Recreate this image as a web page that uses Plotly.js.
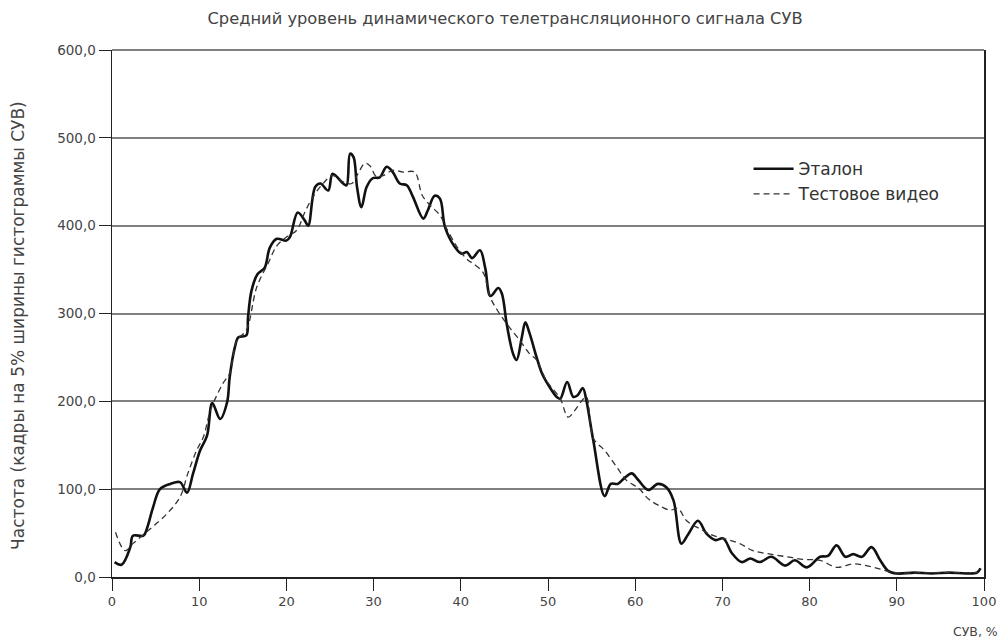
<!DOCTYPE html>
<html>
<head>
<meta charset="utf-8">
<script src="https://cdn.plot.ly/plotly-3.0.1.min.js"></script>
<style>html,body{margin:0;padding:0;background:#fff;}#chart{width:1002px;height:642px;}</style>
</head>
<body>
<div id="chart"></div>
<script>
// Эталон (solid)
var etalonX = [0.3,1.1,2.1,2.4,3.6,4.0,4.7,5.5,6.7,7.8,8.6,9.3,10.1,10.9,11.5,12.4,13.2,13.5,14.1,14.5,15.4,15.6,16.0,16.7,17.5,18.1,18.9,20.0,20.4,21.3,22.1,22.5,23.3,23.9,24.8,25.3,26.5,26.9,27.3,27.7,28.1,28.6,29.2,29.9,30.7,31.5,32.2,33.0,33.8,34.5,35.7,36.2,37.0,37.6,38.2,39.3,40.1,40.7,41.3,42.2,42.8,43.4,44.3,44.7,45.3,46.0,46.4,47.0,47.4,47.9,48.7,49.3,50.2,51.0,51.4,52.2,52.9,53.4,54.0,54.4,55.2,56.5,57.2,58.0,58.7,59.6,60.3,61.5,62.6,63.6,64.4,65.3,66.1,67.2,68.2,69.2,70.1,71.1,72.2,73.2,74.3,75.6,77.2,78.3,79.7,81.2,82.1,83.1,84.1,85.0,86.0,87.1,88.1,89.0,90.0,92.0,94.0,96.0,98.0,99.2,99.6];
var etalonY = [17,14,34,47,47,55,79,100,106,108,96,118,144,161,198,180,199,228,262,273,275,296,326,345,352,375,385,383,387,415,406,400,444,448,440,459,448,446,482,478,444,421,444,454,455,467,461,448,446,433,408,417,434,431,398,376,368,370,363,372,352,320,329,323,286,254,247,273,290,277,250,232,216,205,203,222,205,207,215,201,155,92,106,106,112,118,111,99,106,102,87,38,49,64,49,42,44,27,17,21,17,23,13,19,11,23,24,36,23,26,23,34,19,7,4,5,4,5,4,5,10];
// Тестовое видео (dashed)
var testX = [0.4,1.5,2.4,4.4,6.3,7.8,8.7,9.7,10.5,11.3,12.7,13.5,14.3,15.4,16.6,17.9,18.9,20.0,21.2,22.1,23.0,24.2,25.3,26.5,27.5,28.2,29.0,29.6,30.3,31.1,32.2,33.4,34.7,35.6,36.6,37.6,38.3,39.7,40.8,41.4,42.6,43.3,44.3,45.6,46.8,47.9,48.7,49.8,51.4,52.3,53.1,53.9,54.4,55.2,56.5,57.9,59.0,60.4,61.5,62.8,64.0,64.9,65.9,67.4,69.0,70.5,72.0,73.5,75.5,77.4,79.3,81.2,83.1,85.0,86.5,88.1,89.6,93.4,97.2,99.3];
var testY = [51,30,38,55,72,91,118,144,160,190,220,232,269,281,330,357,377,387,395,415,432,448,457,450,448,459,471,468,456,457,463,461,461,434,422,412,398,374,361,357,346,320,302,284,269,254,247,224,203,182,190,201,205,158,144,125,110,101,89,81,76,78,64,55,47,43,38,30,26,23,20,19,11,15,13,9,5,5,5,5];
var seriesNames = ["Эталон", "Тестовое видео"];
var yTicks = [0,100,200,300,400,500,600];
var xTicks = [0,10,20,30,40,50,60,70,80,90,100];
var titleText = "Средний уровень динамического телетрансляционного сигнала СУВ";
var yTitleText = "Частота (кадры на 5% ширины гистограммы СУВ)";
var xTitleText = "СУВ, %";

var FONT = "DejaVu Sans, Liberation Sans, Arial, sans-serif";
var TXT = "#444";

var traces = [
  {x: etalonX, y: etalonY, name: seriesNames[0], type: "scatter", mode: "lines",
   line: {color: "#111", width: 2.6, shape: "spline", smoothing: 1}},
  {x: testX, y: testY, name: seriesNames[1], type: "scatter", mode: "lines",
   line: {color: "#333", width: 1.3, dash: "6px,4px", shape: "spline", smoothing: 1}}
];

var layout = {
  width: 1002, height: 642,
  margin: {l: 112, r: 18, t: 50, b: 65},
  paper_bgcolor: "#fff", plot_bgcolor: "#fff",
  separators: ", ",
  font: {family: FONT, color: TXT, size: 12},
  title: {text: titleText,
          x: 0.504, xanchor: "center", y: 0.972, yanchor: "middle",
          font: {family: FONT, size: 16.3, color: TXT}},
  showlegend: true,
  legend: {x: 0.73, y: 0.808, xanchor: "left", yanchor: "top",
           bgcolor: "rgba(0,0,0,0)", font: {family: FONT, size: 17, color: "#333"},
           itemwidth: 40, tracegroupgap: 0},
  xaxis: {range: [0, 100], tickvals: xTicks, ticks: "outside", ticklen: 12, tickwidth: 1,
          tickcolor: "#222", showgrid: false, zeroline: false,
          showline: true, linecolor: "#222", linewidth: 1.5,
          tickfont: {family: FONT, size: 13, color: TXT}, fixedrange: true},
  yaxis: {range: [0, 600], tickvals: yTicks, tickformat: ".1f", ticks: "outside",
          ticklen: 12, tickwidth: 1, tickcolor: "#222",
          showgrid: true, gridcolor: "#808080", gridwidth: 2, zeroline: false,
          showline: true, mirror: true, linecolor: "#222", linewidth: 1.5,
          tickfont: {family: FONT, size: 13.5, color: TXT},
          fixedrange: true},
  shapes: [
    {type: "line", xref: "paper", yref: "paper", x0: 0, x1: 1, y0: 1, y1: 1,
     line: {color: "#808080", width: 2}}
  ],
  annotations: [
    {text: yTitleText, xref: "paper", yref: "paper", x: -0.108, y: 0.478,
     xanchor: "center", yanchor: "middle", textangle: -90, showarrow: false,
     font: {family: FONT, size: 17, color: TXT}},
    {text: xTitleText, xref: "paper", yref: "paper", x: 0.99, y: -0.104,
     xanchor: "center", yanchor: "middle", showarrow: false,
     font: {family: FONT, size: 12.5, color: TXT}}
  ]
};

Plotly.newPlot("chart", traces, layout, {displayModeBar: false, staticPlot: true});
</script>
</body>
</html>
